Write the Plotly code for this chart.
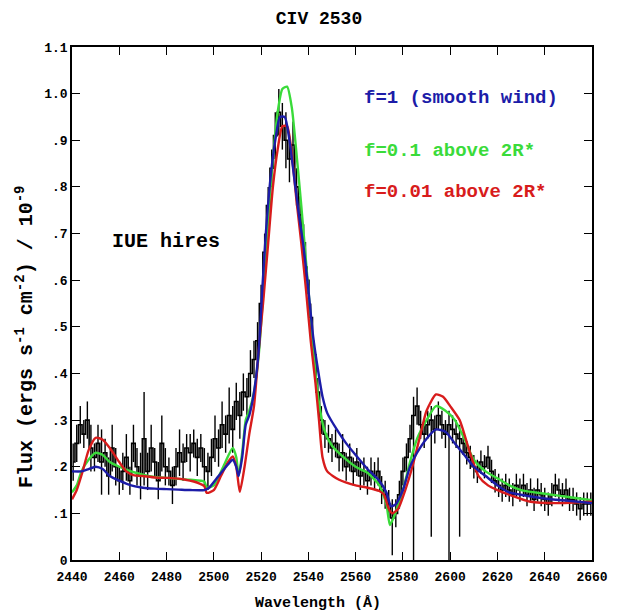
import plotly.graph_objects as go

# ---- model curves (wavelength in Angstrom, flux in 1e-9 erg/s/cm2/A) ----
blue_wave = [2440, 2444, 2447, 2450, 2453, 2456, 2460, 2465, 2470, 2475, 2480, 2485, 2490, 2496,
             2498, 2502, 2506, 2508, 2509.5, 2510.5, 2512, 2513.5, 2515, 2517, 2519, 2520.5, 2522,
             2524, 2526, 2528, 2530, 2532, 2534, 2536, 2538, 2540, 2542, 2544, 2546, 2548, 2552,
             2556, 2560, 2565, 2570, 2573, 2575, 2577, 2580, 2583, 2586, 2590, 2594, 2598, 2602,
             2606, 2610, 2615, 2620, 2625, 2630, 2640, 2650, 2660]
blue_flux = [0.19, 0.19, 0.195, 0.20, 0.195, 0.18, 0.17, 0.16, 0.155, 0.153, 0.152, 0.151, 0.150, 0.150,
             0.155, 0.18, 0.205, 0.215, 0.20, 0.18, 0.22, 0.29, 0.31, 0.36, 0.45, 0.58, 0.70,
             0.82, 0.90, 0.95, 0.95, 0.90, 0.82, 0.74, 0.67, 0.58, 0.48, 0.41, 0.35, 0.315, 0.28,
             0.25, 0.225, 0.195, 0.17, 0.145, 0.115, 0.12, 0.15, 0.20, 0.23, 0.26, 0.28, 0.275, 0.25,
             0.225, 0.20, 0.18, 0.16, 0.145, 0.14, 0.132, 0.127, 0.122]

green_wave = [2440, 2442, 2444, 2447, 2450, 2453, 2456, 2460, 2465, 2470, 2475, 2480, 2485, 2490,
              2496, 2497, 2500, 2504, 2508, 2509.5, 2510.5, 2512, 2513.5, 2515, 2517, 2519, 2521,
              2523, 2525, 2527, 2529, 2531, 2533, 2535, 2537, 2539, 2541, 2543, 2545, 2547, 2550,
              2555, 2560, 2565, 2570, 2573, 2574.5, 2576, 2580, 2583, 2586, 2590, 2594, 2598, 2602,
              2606, 2610, 2615, 2620, 2625, 2630, 2640, 2650, 2660]
green_flux = [0.145, 0.16, 0.19, 0.215, 0.23, 0.225, 0.21, 0.20, 0.19, 0.183, 0.178, 0.176, 0.174, 0.172,
              0.168, 0.155, 0.16, 0.20, 0.24, 0.22, 0.18, 0.23, 0.30, 0.32, 0.36, 0.44, 0.58,
              0.73, 0.86, 0.96, 1.01, 1.015, 0.97, 0.87, 0.76, 0.64, 0.52, 0.40, 0.32, 0.275, 0.245,
              0.22, 0.20, 0.187, 0.16, 0.12, 0.075, 0.09, 0.15, 0.21, 0.26, 0.30, 0.33, 0.32, 0.30,
              0.26, 0.215, 0.19, 0.175, 0.16, 0.15, 0.142, 0.135, 0.128]

red_wave = [2440, 2442, 2444.5, 2447, 2450, 2453, 2456, 2460, 2463, 2466, 2470, 2475, 2481, 2488,
            2494, 2496, 2497, 2500, 2503, 2506, 2508, 2509.5, 2511, 2513, 2515, 2517, 2519, 2521,
            2523, 2525, 2527, 2529, 2531, 2533, 2535, 2537, 2539, 2541, 2543, 2544.5, 2546, 2548,
            2553, 2560, 2565, 2570, 2572, 2574, 2575.5, 2578, 2581, 2584, 2587, 2590, 2594, 2597,
            2600, 2604, 2608, 2612, 2616, 2620, 2625, 2634, 2645, 2660]
red_flux = [0.13, 0.15, 0.19, 0.235, 0.262, 0.258, 0.24, 0.21, 0.19, 0.182, 0.18, 0.177, 0.176, 0.172,
            0.164, 0.158, 0.144, 0.15, 0.18, 0.21, 0.222, 0.20, 0.146, 0.20, 0.27, 0.33, 0.45, 0.56,
            0.68, 0.80, 0.88, 0.93, 0.93, 0.87, 0.77, 0.68, 0.58, 0.47, 0.38, 0.30, 0.22, 0.19,
            0.172, 0.16, 0.155, 0.148, 0.14, 0.11, 0.10, 0.11, 0.15, 0.20, 0.26, 0.32, 0.355, 0.35,
            0.33, 0.30, 0.236, 0.18, 0.16, 0.15, 0.14, 0.125, 0.122, 0.125]

# ---- IUE high-resolution observation ----
obs_wave = [2440.5, 2442, 2443.5, 2445, 2446.5, 2448, 2449.5, 2451, 2452.5, 2454, 2455.5, 2457, 2458.5,
            2460, 2461.5, 2463, 2464.5, 2466, 2467.5, 2469, 2470.5, 2472, 2473.5, 2475, 2476.5, 2478,
            2479.5, 2481, 2482.5, 2484, 2485.5, 2487, 2488.5, 2490, 2491.5, 2493, 2494.5, 2496, 2497.5,
            2499, 2500.5, 2502, 2503.5, 2505, 2506.5, 2508, 2509.5, 2511, 2512.5, 2514, 2515.5, 2517, 2518.5,
            2520, 2521.5, 2523, 2524.5, 2526, 2527.5, 2529, 2530.5, 2532, 2533.5, 2535, 2536.5, 2538,
            2539.5, 2541, 2542.5, 2544,
            2545.5, 2547, 2548.5, 2550, 2551.5, 2553, 2554.5, 2556, 2557.5, 2559, 2560.5, 2562, 2563.5,
            2565, 2566.5, 2568, 2569.5, 2571, 2572.5, 2574, 2575.5, 2577,
            2578.5, 2580, 2581.5, 2583, 2584.5, 2586, 2587.5, 2589, 2590.5, 2592, 2593.5, 2595, 2596.5,
            2598, 2599.5, 2601, 2602.5, 2604,
            2605.5, 2607, 2608.5, 2610, 2611.5, 2613, 2614.5, 2616, 2617.5, 2619, 2620.5, 2622, 2623.5,
            2625, 2626.5, 2628, 2629.5, 2631, 2632.5, 2634, 2635.5, 2637, 2638.5, 2640, 2641.5, 2643,
            2644.5, 2646, 2647.5, 2649, 2650.5, 2652, 2653.5, 2655, 2656.5, 2658, 2659.5]
obs_flux = [0.21, 0.25, 0.29, 0.27, 0.30, 0.24, 0.22, 0.25, 0.21, 0.23, 0.18, 0.24, 0.20,
            0.17, 0.19, 0.22, 0.17, 0.25, 0.20, 0.18, 0.26, 0.19, 0.24, 0.21, 0.17, 0.25,
            0.20, 0.19, 0.16, 0.20, 0.23, 0.21, 0.24, 0.23, 0.25, 0.22, 0.24, 0.20, 0.19,
            0.22, 0.26, 0.24, 0.29, 0.27, 0.31, 0.28, 0.34, 0.31, 0.36, 0.35, 0.40, 0.43, 0.47,
            0.55, 0.66, 0.76, 0.84, 0.91, 0.96, 0.93, 0.90, 0.86, 0.89, 0.80, 0.74, 0.68,
            0.60, 0.52, 0.44, 0.36,
            0.30, 0.27, 0.26, 0.24, 0.25, 0.22, 0.23, 0.20, 0.22, 0.19, 0.21, 0.18, 0.19,
            0.17, 0.19, 0.18, 0.19, 0.15, 0.14, 0.12, 0.09, 0.10,
            0.14, 0.19, 0.22, 0.26, 0.31, 0.33, 0.29, 0.27, 0.29, 0.30, 0.28, 0.31, 0.29,
            0.27, 0.29, 0.28, 0.27, 0.26,
            0.25, 0.23, 0.22, 0.20, 0.19, 0.21, 0.20, 0.22, 0.19, 0.17, 0.16, 0.15, 0.16,
            0.15, 0.14, 0.16, 0.15, 0.16, 0.14, 0.15, 0.13, 0.15, 0.14, 0.13, 0.12, 0.14,
            0.16, 0.15, 0.14, 0.15, 0.13, 0.13, 0.12, 0.11, 0.12, 0.12, 0.12]
obs_err_up = [0.04, 0.04, 0.04, 0.03, 0.04, 0.05, 0.03, 0.04, 0.07, 0.03, 0.04, 0.05, 0.04,
              0.03, 0.04, 0.05, 0.03, 0.04, 0.04, 0.05, 0.10, 0.04, 0.05, 0.03, 0.04, 0.06,
              0.04, 0.03, 0.04, 0.04, 0.05, 0.04, 0.03, 0.04, 0.03, 0.04, 0.03, 0.04, 0.04,
              0.04, 0.05, 0.04, 0.05, 0.04, 0.06, 0.05, 0.04, 0.05, 0.04, 0.04, 0.05, 0.04, 0.04,
              0.04, 0.04, 0.04, 0.04, 0.05, 0.05, 0.05, 0.06, 0.05, 0.05, 0.04, 0.04, 0.04,
              0.03, 0.03, 0.03, 0.03,
              0.03, 0.03, 0.03, 0.03, 0.03, 0.03, 0.04, 0.03, 0.03, 0.03, 0.03, 0.03, 0.03,
              0.03, 0.03, 0.03, 0.03, 0.03, 0.03, 0.03, 0.04, 0.03,
              0.03, 0.03, 0.03, 0.03, 0.04, 0.04, 0.03, 0.03, 0.03, 0.03, 0.03, 0.03, 0.03,
              0.03, 0.03, 0.03, 0.03, 0.03,
              0.025, 0.025, 0.025, 0.025, 0.025, 0.025, 0.025, 0.025, 0.025, 0.025, 0.025, 0.025, 0.025,
              0.025, 0.025, 0.025, 0.025, 0.025, 0.025, 0.025, 0.025, 0.025, 0.025, 0.025, 0.025, 0.025,
              0.025, 0.025, 0.025, 0.025, 0.025, 0.025, 0.025, 0.025, 0.025, 0.025, 0.025]
obs_err_dn = [0.04, 0.04, 0.04, 0.03, 0.04, 0.05, 0.03, 0.04, 0.07, 0.03, 0.04, 0.05, 0.04,
              0.03, 0.04, 0.05, 0.03, 0.04, 0.04, 0.05, 0.10, 0.04, 0.05, 0.03, 0.04, 0.06,
              0.04, 0.03, 0.04, 0.04, 0.05, 0.04, 0.03, 0.04, 0.03, 0.04, 0.03, 0.04, 0.04,
              0.04, 0.05, 0.04, 0.05, 0.04, 0.06, 0.05, 0.04, 0.05, 0.04, 0.04, 0.05, 0.04, 0.04,
              0.04, 0.04, 0.04, 0.04, 0.05, 0.05, 0.05, 0.06, 0.05, 0.05, 0.04, 0.04, 0.04,
              0.03, 0.03, 0.03, 0.03,
              0.03, 0.03, 0.03, 0.03, 0.03, 0.03, 0.04, 0.03, 0.03, 0.03, 0.03, 0.03, 0.03,
              0.03, 0.03, 0.03, 0.03, 0.03, 0.03, 0.03, 0.08, 0.03,
              0.03, 0.03, 0.03, 0.03, 0.31, 0.04, 0.03, 0.03, 0.03, 0.25, 0.03, 0.03, 0.03,
              0.03, 0.29, 0.03, 0.03, 0.21,
              0.025, 0.025, 0.025, 0.025, 0.025, 0.025, 0.025, 0.025, 0.025, 0.025, 0.025, 0.025, 0.025,
              0.025, 0.025, 0.025, 0.025, 0.025, 0.025, 0.025, 0.025, 0.025, 0.025, 0.025, 0.025, 0.025,
              0.025, 0.025, 0.025, 0.025, 0.025, 0.025, 0.025, 0.025, 0.025, 0.025, 0.025]

x_ticks = [2440, 2460, 2480, 2500, 2520, 2540, 2560, 2580, 2600, 2620, 2640, 2660]
y_ticks = [0, 0.1, 0.2, 0.3, 0.4, 0.5, 0.6, 0.7, 0.8, 0.9, 1.0, 1.1]
y_tick_text = ["0", ".1", ".2", ".3", ".4", ".5", ".6", ".7", ".8", ".9", "1.0", "1.1"]

FONT = "Liberation Mono"
BLUE = "#1c1ca8"
GREEN = "#3adb3a"
RED = "#d81c1c"

fig = go.Figure()
fig.add_trace(go.Scatter(
    x=obs_wave, y=obs_flux, mode="lines", line=dict(color="black", width=1.6, shape="hvh"),
    error_y=dict(type="data", symmetric=False, array=obs_err_up, arrayminus=obs_err_dn,
                 color="black", thickness=1.4, width=0),
    showlegend=False, hoverinfo="skip"))
fig.add_trace(go.Scatter(x=green_wave, y=green_flux, mode="lines",
                         line=dict(color=GREEN, width=2.4, shape="spline", smoothing=0.6), showlegend=False))
fig.add_trace(go.Scatter(x=red_wave, y=red_flux, mode="lines",
                         line=dict(color=RED, width=2.4, shape="spline", smoothing=0.6), showlegend=False))
fig.add_trace(go.Scatter(x=blue_wave, y=blue_flux, mode="lines",
                         line=dict(color=BLUE, width=2.4, shape="spline", smoothing=0.6), showlegend=False))

annots = [
    dict(x=2562.5, y=0.99, text="<b>f=1 (smooth wind)</b>", color=BLUE, size=19),
    dict(x=2562.5, y=0.877, text="<b>f=0.1 above 2R*</b>", color=GREEN, size=19),
    dict(x=2562.5, y=0.789, text="<b>f=0.01 above 2R*</b>", color=RED, size=19),
    dict(x=2456, y=0.684, text="<b>IUE hires</b>", color="black", size=20),
]
for a in annots:
    fig.add_annotation(x=a["x"], y=a["y"], xref="x", yref="y", text=a["text"], showarrow=False,
                       xanchor="left", yanchor="middle",
                       font=dict(family=FONT, size=a["size"], color=a["color"]))

# axis titles placed as paper-referenced annotations (positioned like the reference)
fig.add_annotation(x=(318 - 72) / 520, y=(560 - 603) / 513, xref="paper", yref="paper",
                   text="<b>Wavelength (Å)</b>", showarrow=False, xanchor="center", yanchor="middle",
                   font=dict(family=FONT, size=15, color="black"))
fig.add_annotation(x=(25 - 72) / 520, y=(560 - 337) / 513, xref="paper", yref="paper",
                   text="<b>Flux (ergs s<sup>-1</sup> cm<sup>-2</sup>) / 10<sup>-9</sup></b>",
                   textangle=-90, showarrow=False, xanchor="center", yanchor="middle",
                   font=dict(family=FONT, size=20, color="black"))

tick_font = dict(family=FONT, size=13, color="black", weight="bold")
axis_common = dict(showline=True, linecolor="black", linewidth=1.5, mirror="ticks",
                   ticks="inside", ticklen=8, tickwidth=1.2, tickcolor="black",
                   showgrid=False, zeroline=False, tickfont=tick_font, automargin=False)

fig.update_layout(
    width=617, height=613,
    margin=dict(l=72, r=25, t=47, b=53),
    paper_bgcolor="white", plot_bgcolor="white",
    title=dict(text="<b>CIV 2530</b>", x=0.475 * 520 / 617 + 72 / 617, xanchor="center",
               y=1 - 18 / 613, yanchor="middle",
               font=dict(family=FONT, size=18, color="black")),
    xaxis=dict(range=[2440, 2660], tickvals=x_ticks, ticktext=[str(v) for v in x_ticks],
               ticklabelstandoff=4, **axis_common),
    yaxis=dict(range=[0, 1.1], tickvals=y_ticks, ticktext=y_tick_text, **axis_common),
)

fig.write_html("out.html")
